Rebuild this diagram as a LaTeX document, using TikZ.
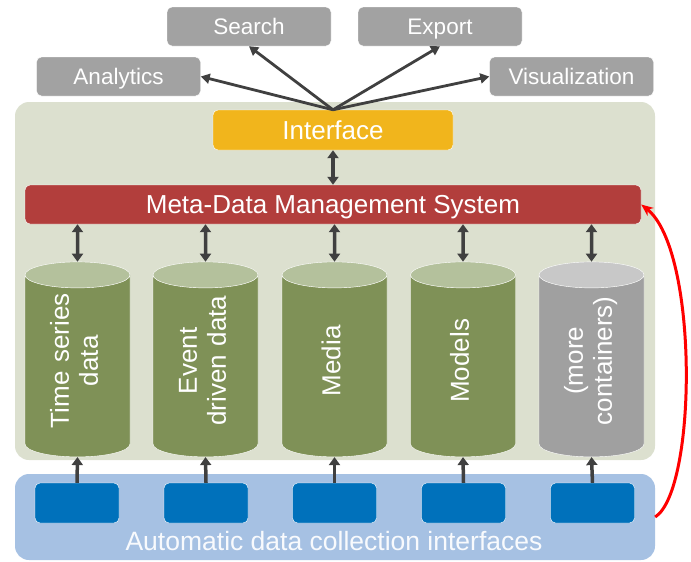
\documentclass[tikz,border=0pt]{standalone}
\usepackage{graphicx}
\usepackage{fontspec}
\setmainfont{Liberation Sans}
\usetikzlibrary{arrows.meta,shapes.geometric}

\definecolor{toolgray}{HTML}{A2A2A2}
\definecolor{panelgreen}{HTML}{DCE0CF}
\definecolor{ifacegold}{HTML}{F1B51C}
\definecolor{metared}{HTML}{B23E3C}
\definecolor{cylbody}{HTML}{7F9157}
\definecolor{cyltop}{HTML}{B4C19C}
\definecolor{graybody}{HTML}{A0A0A0}
\definecolor{graytop}{HTML}{C8C8C8}
\definecolor{panelblue}{HTML}{A6C1E3}
\definecolor{boxblue}{HTML}{0071BB}
\definecolor{arrowgray}{HTML}{404040}

\newcommand{\upright}[1]{$\vcenter{\hbox{\rotatebox{90}{\begin{tabular}{@{}c@{}}#1\end{tabular}}}}$}

\begin{document}
\begin{tikzpicture}[x=1pt,y=-1pt,
  tool/.style={draw=white,fill=toolgray,rounded corners=5pt,text=white,
    minimum width=164pt,minimum height=39pt,text height=18pt,text depth=2pt,
    font=\fontsize{22.5}{24}\selectfont},
  panel/.style={rounded corners=14pt,inner sep=0pt},
  bar/.style={draw=white,rounded corners=5pt,text=white,inner sep=0pt,
    text height=21pt,text depth=2.5pt,font=\fontsize{26}{28}\selectfont},
  store/.style={cylinder,shape border rotate=90,draw=white,thin,
    cylinder uses custom fill,cylinder body fill=cylbody,cylinder end fill=cyltop,
    aspect=.42,minimum width=105pt,minimum height=195pt,inner sep=0pt,
    text width=62pt,align=center,text height=76pt,text depth=74pt,
    text=white,font=\fontsize{26}{29}\selectfont},
  collector/.style={draw=white,fill=boxblue,rounded corners=5pt,
    minimum width=84pt,minimum height=40pt},
  fan/.style={arrowgray,line width=2.8pt,-{Triangle[length=9pt,width=10pt]}},
  link/.style={arrowgray,line width=3.5pt,{Triangle[length=8pt,width=11pt]}-{Triangle[length=8pt,width=11pt]}},
  feed/.style={arrowgray,line width=3.5pt,-{Triangle[length=8pt,width=11pt]}}]
  \useasboundingbox (0,0) rectangle (691,562);

  % panels
  \node[panel,fill=panelgreen,minimum width=640pt,minimum height=358pt] (core) at (335,281) {};
  \node[panel,fill=panelblue,minimum width=640pt,minimum height=86pt] (collect) at (335,517) {};
  \node[text=white!92!panelblue,font=\fontsize{26.5}{28}\selectfont] (collectlabel) at (334,541) {Automatic data collection interfaces};

  % tools on top
  \node[tool] (search) at (249,26.5) {Search};
  \node[tool] (export) at (440,26.5) {Export};
  \node[tool] (analytics) at (118.5,76.5) {Analytics};
  \node[tool] (visual) at (571.5,76.5) {Visualization};

  % interface and meta-data
  \node[bar,fill=ifacegold,minimum width=240pt,minimum height=40pt] (iface) at (333,130) {Interface};
  \node[bar,fill=metared,minimum width=616pt,minimum height=39pt] (meta) at (333,204.5) {Meta-Data Management System};

  \draw[fan] (iface.north) -- (analytics.east);
  \draw[fan] (iface.north) -- (search.south);
  \draw[fan] (iface.north) -- (export.south);
  \draw[fan] (iface.north) -- (visual.west);
  \draw[link] (iface.south) -- (meta.north);

  % containers
  \node[store] (tseries) at (77.5,366) {\upright{Time series\\data}};
  \node[store] (events) at (205.5,366) {\upright{Event\\driven data}};
  \node[store] (media) at (334.5,366) {\upright{Media}};
  \node[store] (models) at (463,366) {\upright{Models}};
  \node[store,cylinder body fill=graybody,cylinder end fill=graytop] (more) at (591.5,366) {\upright{(more\\containers)}};

  % collection boxes
  \foreach \name/\xpos in {c1/77, c2/206, c3/334.5, c4/463.5, c5/592.5}
    \node[collector] (\name) at (\xpos,503) {};

  \foreach \src/\cyl in {c1/tseries, c2/events, c3/media, c4/models, c5/more} {
    \draw[link] (meta.south -| \cyl.center) -- (\cyl.north);
    \draw[feed] (\src.north) -- (\cyl.south);
  }

  % feedback
  \draw[red,line width=3pt,-{Stealth[length=12pt,width=10pt]}]
    (collect.east) .. controls (697,490) and (699,250) .. (meta.east);
\end{tikzpicture}
\end{document}
